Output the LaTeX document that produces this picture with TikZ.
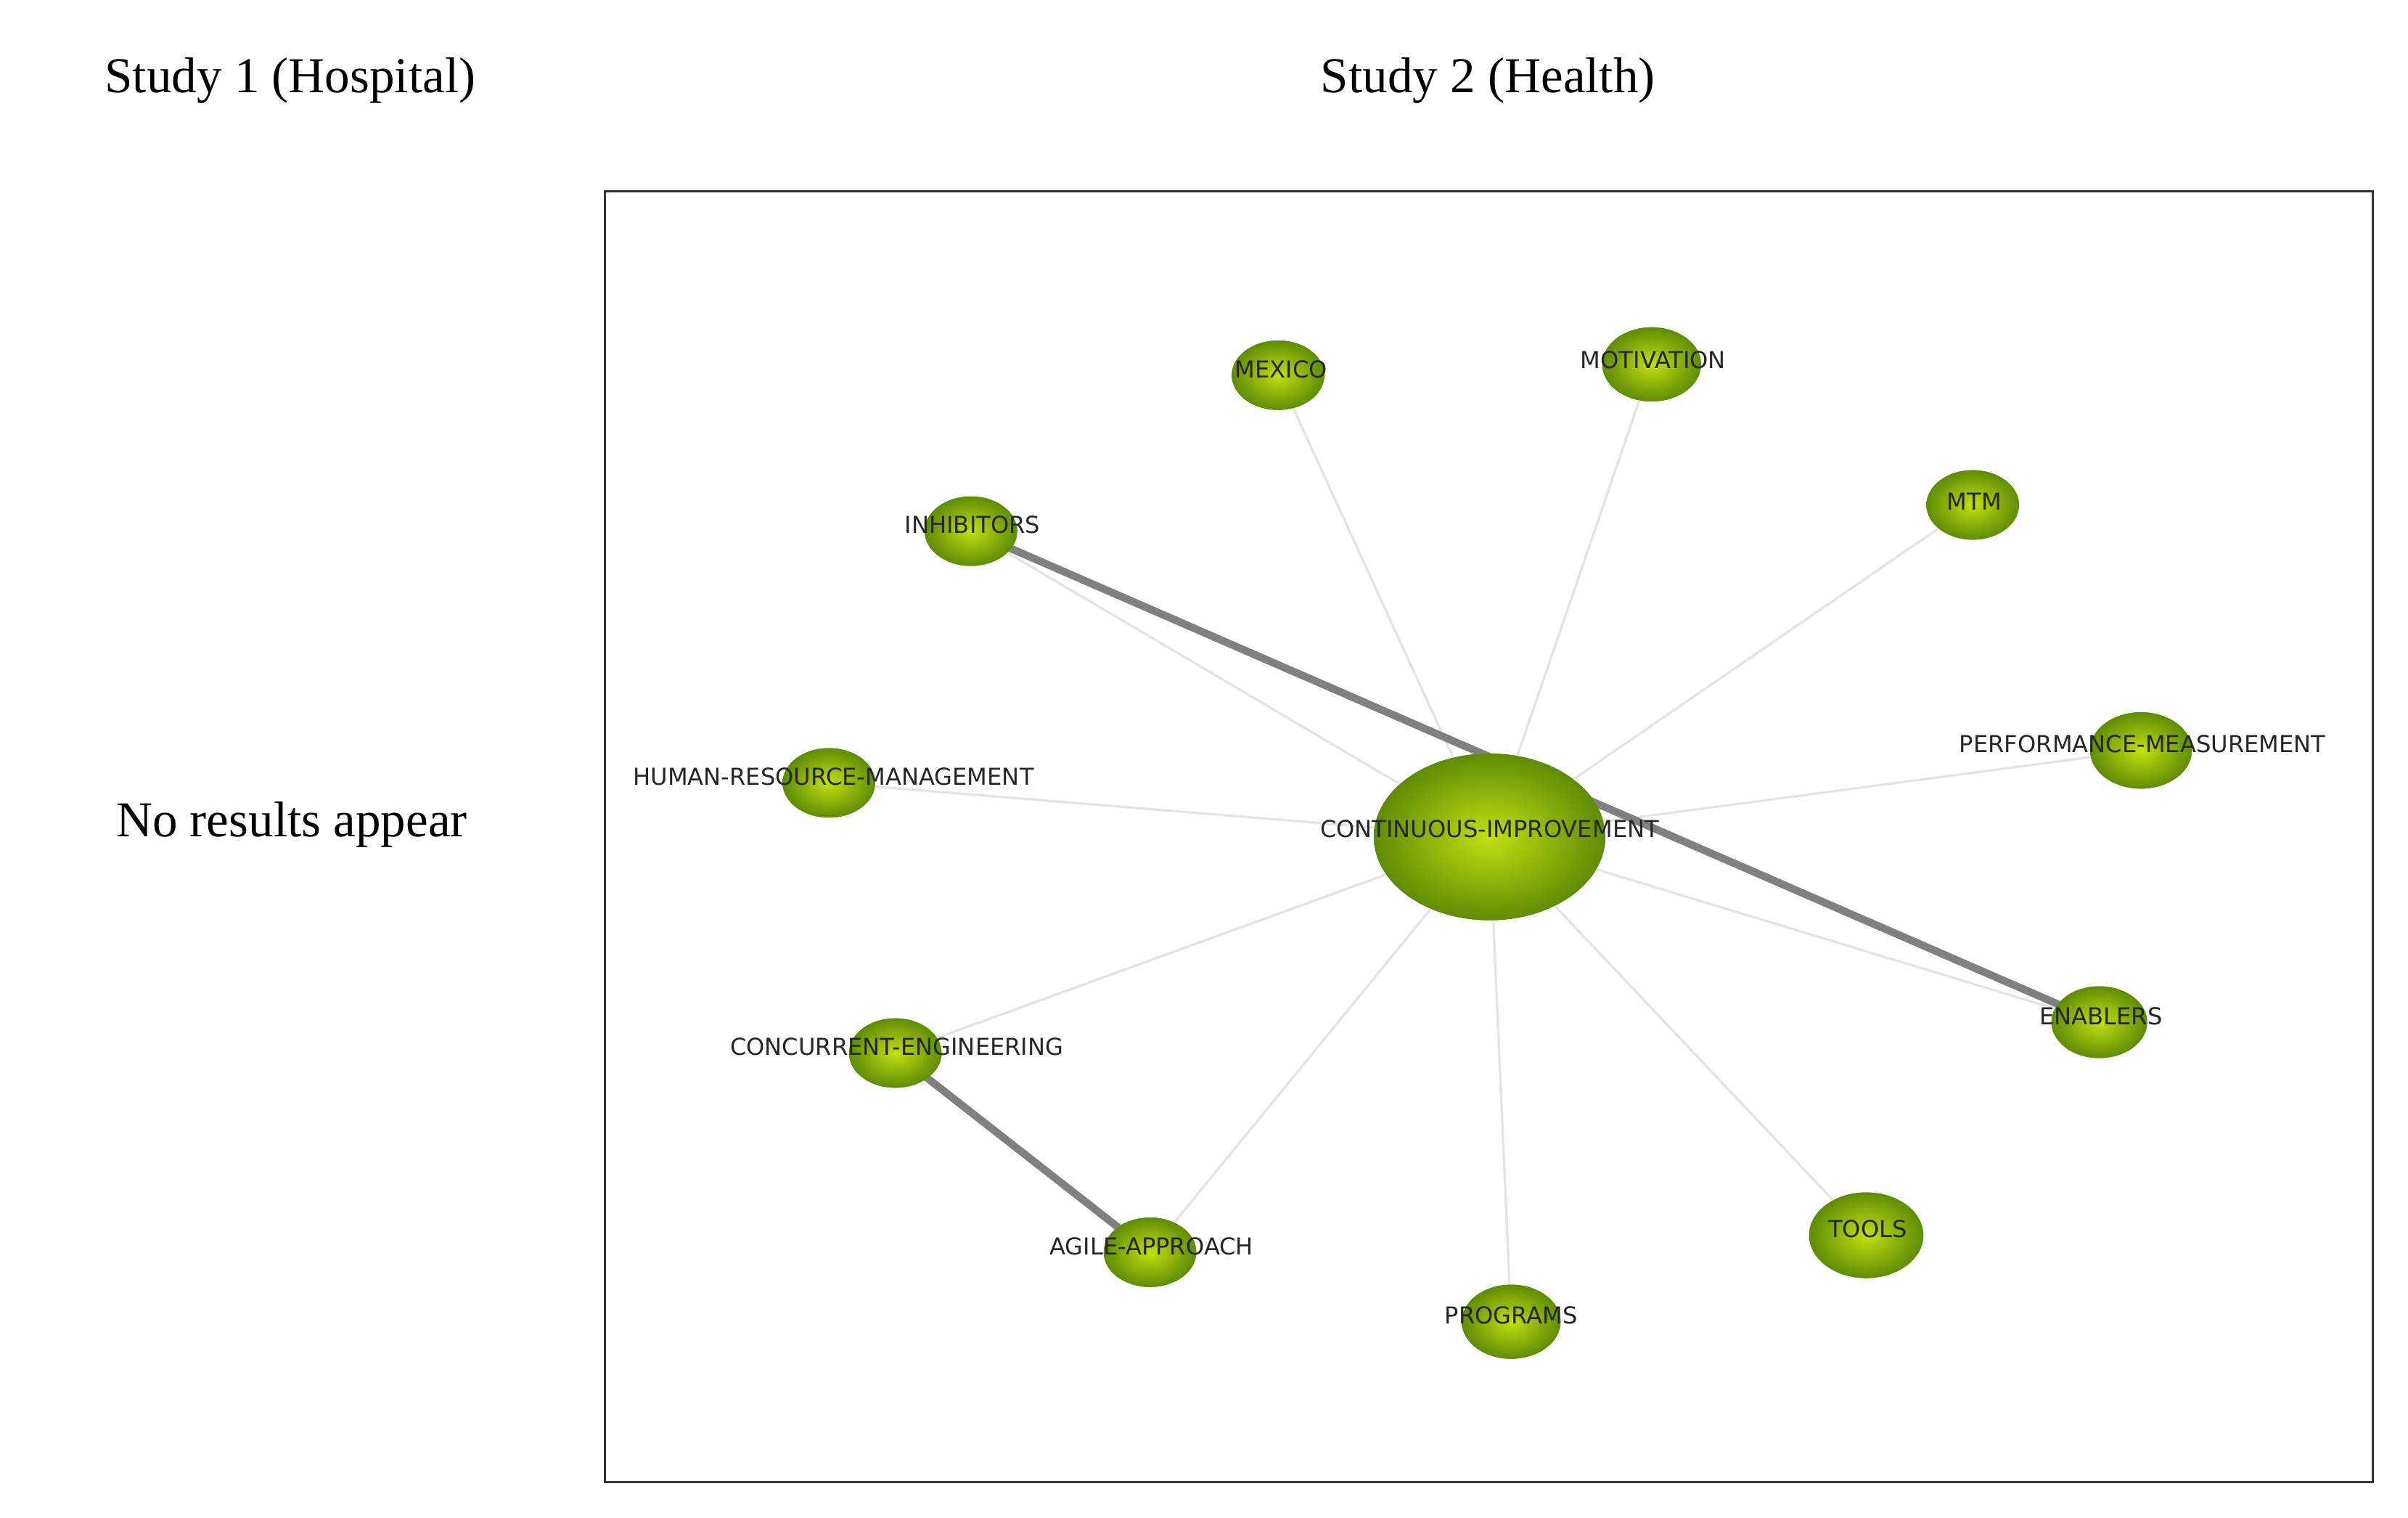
\documentclass[tikz,border=0pt]{standalone}
\usepackage{fontspec}
\setmainfont{Liberation Serif}
\newfontfamily\lblfont{DejaVu Sans}
\usetikzlibrary{shapes.geometric}
\definecolor{gin}{HTML}{C2E011}
\definecolor{gout}{HTML}{5F8C05}
\definecolor{thick}{HTML}{808080}
\definecolor{thin}{HTML}{E4E4E4}
\tikzset{
  ball/.style={ellipse, inner color=gin, outer color=gout, minimum width=#1*2*0.02cm, minimum height=#1*1.5*0.02cm, inner sep=0pt},
  lbl/.style={font=\lblfont\fontsize{8.6}{9}\selectfont, text=black!85},
  title/.style={font=\fontsize{18.5}{22}\selectfont},
  weak/.style={draw=thin, line width=0.9pt},
  strong/.style={draw=thick, line width=2.8pt}
}
\begin{document}
\begin{tikzpicture}[x=0.02cm,y=-0.02cm]
\useasboundingbox (0,0) rectangle (1560,983);
\node[title] (t1) at (188,52) {Study 1 (Hospital)};
\node[title] (t2) at (964,52) {Study 2 (Health)};
\node[title] (t3) at (189,534) {No results appear};
\draw[line width=0.8pt, draw=black!80] (392,124) rectangle (1537,960);
% nodes
\node[ellipse, inner color=gin, outer color=gout, minimum width=3cm, minimum height=2.16cm] (ci) at (965,542) {};
\node[ball=30] (mex) at (828,243) {};
\node[ball=32] (mot) at (1070,236) {};
\node[ball=30] (mtm) at (1278,327) {};
\node[ball=30] (inh) at (629,344) {};
\node[ball=30] (hrm) at (537,507) {};
\node[ball=33] (perf) at (1387,486) {};
\node[ball=31] (ena) at (1360,662) {};
\node[ball=30] (con) at (580,682) {};
\node[ball=30] (agi) at (745,811) {};
\node[ball=32] (pro) at (979,856) {};
\node[ball=37] (too) at (1209,800) {};
% edges
\begin{scope}[on background layer/.style={}]
\end{scope}
\draw[weak] (ci.center) -- (mex.center) (ci.center) -- (mot.center) (ci.center) -- (mtm.center)
  (ci.center) -- (inh.center) (ci.center) -- (hrm.center) (ci.center) -- (perf.center)
  (ci.center) -- (ena.center) (ci.center) -- (con.center) (ci.center) -- (agi.center)
  (ci.center) -- (pro.center) (ci.center) -- (too.center);
\draw[strong] (inh.center) -- (ena.center);
\draw[strong] (con.center) -- (agi.center);
% redraw nodes on top
\foreach \n/\s in {mex/30,mot/32,mtm/30,inh/30,hrm/30,perf/33,ena/31,con/30,agi/30,pro/32,too/37}{
  \node[ball=\s] at (\n) {};
}
\node[ellipse, inner color=gin, outer color=gout, minimum width=3cm, minimum height=2.16cm] at (ci) {};
% labels
\node[lbl] (lci) at (965,537) {CONTINUOUS-IMPROVEMENT};
\node[lbl] (lmex) at (830,239) {MEXICO};
\node[lbl] (lmot) at (1071,233) {MOTIVATION};
\node[lbl] (lmtm) at (1279,325) {MTM};
\node[lbl] (linh) at (630,340) {INHIBITORS};
\node[lbl] (lhrm) at (540,503) {HUMAN-RESOURCE-MANAGEMENT};
\node[lbl] (lperf) at (1388,482) {PERFORMANCE-MEASUREMENT};
\node[lbl] (lena) at (1361,658) {ENABLERS};
\node[lbl] (lcon) at (581,678) {CONCURRENT-ENGINEERING};
\node[lbl] (lagi) at (746,807) {AGILE-APPROACH};
\node[lbl] (lpro) at (979,852) {PROGRAMS};
\node[lbl] (ltoo) at (1210,796) {TOOLS};
\end{tikzpicture}
\end{document}
